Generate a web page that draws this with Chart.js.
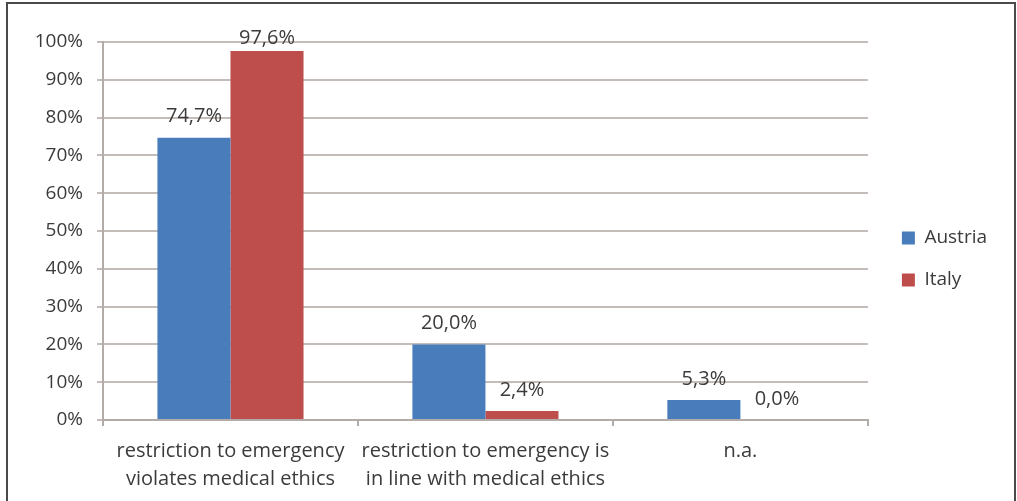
<!DOCTYPE html>
<html>
<head>
<meta charset="utf-8">
<script src="https://cdn.jsdelivr.net/npm/chart.js@4/dist/chart.umd.min.js"></script>
<style>
  html, body { margin: 0; padding: 0; background: #ffffff; }
  canvas { display: block; }
</style>
</head>
<body>
<canvas id="c" width="1017" height="501"></canvas>
<script>
// Survey answers: share of respondents per country
const categories = [
  ["restriction to emergency", "violates medical ethics"],
  ["restriction to emergency is", "in line with medical ethics"],
  "n.a."
];
const austria = [74.7, 20.0, 5.3];
const italy = [97.6, 2.4, 0.0];
const yTicks = [0, 10, 20, 30, 40, 50, 60, 70, 80, 90, 100];

const FONT = "'Open Sans', Lato, sans-serif";
const TEXT = "#3b3b3b";
const GRID = "#c4bcb8";
const AXIS = "#b3aba8";

// Value labels above each bar, written with a decimal comma
const valueLabels = {
  id: "valueLabels",
  afterDatasetsDraw(chart) {
    const ctx = chart.ctx;
    const top = chart.chartArea.top;
    ctx.save();
    ctx.font = "20px " + FONT;
    ctx.fillStyle = TEXT;
    ctx.textAlign = "center";
    ctx.textBaseline = "middle";
    chart.data.datasets.forEach((ds, di) => {
      chart.getDatasetMeta(di).data.forEach((bar, i) => {
        const v = ds.data[i];
        const text = v.toFixed(1).replace(".", ",") + "%";
        const y = Math.max(bar.y - 21, top - 4);
        ctx.fillText(text, bar.x, y);
      });
    });
    ctx.restore();
  }
};

// Frame round the figure and legend placement
const frame = {
  id: "frame",
  afterLayout(chart) {
    const lg = chart.legend;
    const dx = 11, dy = -14;
    lg.left += dx;
    lg.right += dx;
    lg.top += dy;
    lg.bottom += dy;
  },
  afterDraw(chart) {
    const ctx = chart.ctx;
    ctx.save();
    ctx.strokeStyle = "#4a4a4a";
    ctx.lineWidth = 2;
    ctx.beginPath();
    ctx.moveTo(7, 520);
    ctx.lineTo(7, 3);
    ctx.lineTo(1015, 3);
    ctx.lineTo(1015, 520);
    ctx.stroke();
    ctx.restore();
  }
};

new Chart(document.getElementById("c"), {
  type: "bar",
  data: {
    labels: categories,
    datasets: [
      { label: "Austria", data: austria, backgroundColor: "#497cbb" },
      { label: "Italy", data: italy, backgroundColor: "#bd4e4b" }
    ]
  },
  options: {
    responsive: false,
    animation: false,
    events: [],
    layout: { padding: { left: 0, right: 31, top: 42, bottom: -3 } },
    datasets: { bar: { categoryPercentage: 0.573, barPercentage: 1.0 } },
    scales: {
      x: {
        grid: { drawOnChartArea: false, drawTicks: true, tickLength: 6, color: AXIS, lineWidth: 2 },
        border: { display: true, color: AXIS, width: 2 },
        ticks: { color: TEXT, font: { family: FONT, size: 20, lineHeight: 1.4 }, padding: 11, maxRotation: 0 }
      },
      y: {
        min: 0,
        max: 100,
        afterBuildTicks(scale) { scale.ticks = yTicks.map(v => ({ value: v })); },
        afterFit(scale) { scale.width = 103; },
        grid: { color: GRID, lineWidth: 2, tickLength: 6 },
        border: { display: true, color: AXIS, width: 2 },
        ticks: {
          color: TEXT,
          font: { family: FONT, size: 19 },
          padding: 14,
          callback: v => v + "%"
        }
      }
    },
    plugins: {
      legend: {
        position: "right",
        labels: {
          color: TEXT,
          font: { family: FONT, size: 19 },
          boxWidth: 13,
          boxHeight: 13,
          padding: 23
        }
      },
      tooltip: { enabled: false }
    }
  },
  plugins: [valueLabels, frame]
});
</script>
</body>
</html>
